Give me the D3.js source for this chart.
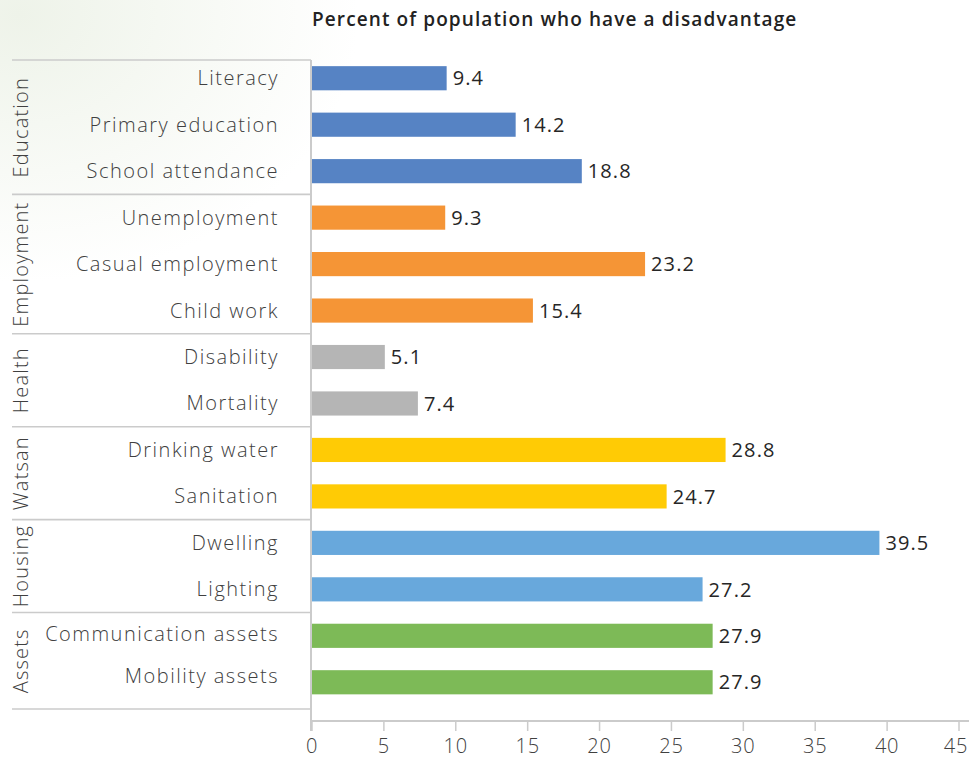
<!DOCTYPE html>
<html>
<head>
<meta charset="utf-8">
<script src="https://cdn.jsdelivr.net/npm/d3@7"></script>
<style>
  html, body { margin: 0; padding: 0; background: #fff; }
  svg { display: block; }
  text { font-family: "Open Sans", "Noto Sans", sans-serif; }
</style>
</head>
<body>
<script>
// Indicators, top to bottom
const indicators = [
  "Literacy", "Primary education", "School attendance",
  "Unemployment", "Casual employment", "Child work",
  "Disability", "Mortality",
  "Drinking water", "Sanitation",
  "Dwelling", "Lighting",
  "Communication assets", "Mobility assets"
];
// Percent of population with each disadvantage
const values = [9.4, 14.2, 18.8, 9.3, 23.2, 15.4, 5.1, 7.4, 28.8, 24.7, 39.5, 27.2, 27.9, 27.9];
// Domain each indicator belongs to
const domainOf = [
  "Education", "Education", "Education",
  "Employment", "Employment", "Employment",
  "Health", "Health",
  "Watsan", "Watsan",
  "Housing", "Housing",
  "Assets", "Assets"
];
const domains = ["Education", "Employment", "Health", "Watsan", "Housing", "Assets"];
const domainColors = ["#5683c4", "#f59536", "#b5b5b5", "#ffcb05", "#68a8dc", "#7dba57"];
const xTicks = [0, 5, 10, 15, 20, 25, 30, 35, 40, 45];
const title = "Percent of population who have a disadvantage";

const W = 969, H = 763;
const svg = d3.select("body").append("svg").attr("width", W).attr("height", H);

// faint wash in the top-left corner
const defs = svg.append("defs");
const rg = defs.append("radialGradient").attr("id", "wash")
  .attr("cx", 0.02).attr("cy", 0.02).attr("r", 0.35);
rg.append("stop").attr("offset", 0).attr("stop-color", "#eef3e9");
rg.append("stop").attr("offset", 1).attr("stop-color", "#ffffff");
svg.append("rect").attr("width", W).attr("height", H).attr("fill", "url(#wash)");

const x = d3.scaleLinear().domain([0, 45]).range([311.5, 958.5]);
const y = d3.scaleBand().domain(indicators).range([55, 705.5]).paddingInner(0.48).paddingOuter(0.24);
const color = d3.scaleOrdinal().domain(domains).range(domainColors);

const lineColor = "#cbcbcb";
const labelColor = "#404040";
const tableLeft = 12, tableRight = 311;

// title
svg.append("text").attr("x", 312).attr("y", 26)
  .attr("font-size", 19).attr("font-weight", 600).attr("fill", "#222")
  .attr("letter-spacing", 1.1)
  .text(title);

// domain boundaries in the category table
const step = y.step();
const groupRanges = domains.map(d => {
  const idx = indicators.map((_, i) => i).filter(i => domainOf[i] === d);
  const top = y(indicators[idx[0]]) + y.bandwidth() / 2 - step / 2;
  const bot = y(indicators[idx[idx.length - 1]]) + y.bandwidth() / 2 + step / 2;
  return { d, top, bot };
});
const boundaries = [60].concat(groupRanges.slice(0, -1).map(g => g.bot), [709]);
svg.append("g").selectAll("line").data(boundaries).join("line")
  .attr("x1", tableLeft).attr("x2", tableRight)
  .attr("y1", d => d).attr("y2", d => d)
  .attr("stroke", lineColor).attr("stroke-width", 1.6);

// domain labels, rotated
svg.append("g").selectAll("text").data(groupRanges).join("text")
  .attr("transform", (g, i) => {
    const top = i === 0 ? 60 : g.top;
    const bot = i === groupRanges.length - 1 ? 709 : g.bot;
    return `translate(28,${(top + bot) / 2}) rotate(-90)`;
  })
  .attr("text-anchor", "middle")
  .attr("font-size", 20).attr("font-weight", 300).attr("fill", labelColor)
  .attr("letter-spacing", 1.2)
  .text(g => g.d);

// indicator labels (the two asset rows sit slightly higher in their cells)
const labelShift = d => d === "Communication assets" ? -2 : d === "Mobility assets" ? -6 : 0;
svg.append("g").selectAll("text").data(indicators).join("text")
  .attr("x", 279).attr("y", d => y(d) + y.bandwidth() / 2 + labelShift(d))
  .attr("dy", "0.35em").attr("text-anchor", "end")
  .attr("font-size", 20).attr("font-weight", 300).attr("fill", labelColor)
  .attr("letter-spacing", 1.5)
  .text(d => d);

// bars
svg.append("g").selectAll("rect").data(indicators).join("rect")
  .attr("x", x(0) + 0.5).attr("y", d => y(d))
  .attr("width", (d, i) => x(values[i]) - x(0) - 0.5)
  .attr("height", y.bandwidth())
  .attr("fill", (d, i) => color(domainOf[i]));

// value labels
svg.append("g").selectAll("text").data(indicators).join("text")
  .attr("x", (d, i) => x(values[i]) + 6).attr("y", d => y(d) + y.bandwidth() / 2)
  .attr("dy", "0.36em")
  .attr("font-size", 20).attr("fill", "#262626")
  .attr("letter-spacing", 1.1)
  .text((d, i) => values[i].toFixed(1));

// vertical axis line
svg.append("line").attr("x1", 311).attr("x2", 311).attr("y1", 60).attr("y2", 731)
  .attr("stroke", lineColor).attr("stroke-width", 2);

// horizontal axis
const xAxis = d3.axisBottom(x).tickValues(xTicks).tickSize(10).tickPadding(8).tickFormat(d3.format("d"));
const gx = svg.append("g").attr("transform", "translate(0,721)").call(xAxis);
gx.select(".domain").remove();
gx.append("line").attr("x1", 311).attr("x2", W).attr("y1", 0).attr("y2", 0)
  .attr("stroke", lineColor).attr("stroke-width", 2);
gx.selectAll(".tick line").attr("stroke", lineColor).attr("stroke-width", 1.5);
gx.selectAll(".tick text").attr("font-size", 20).attr("font-weight", 300)
  .attr("fill", labelColor).attr("letter-spacing", 0.8)
  .attr("font-family", "\"Open Sans\", sans-serif")
  .attr("dx", d => d === 45 ? -3 : 0);
</script>
</body>
</html>
